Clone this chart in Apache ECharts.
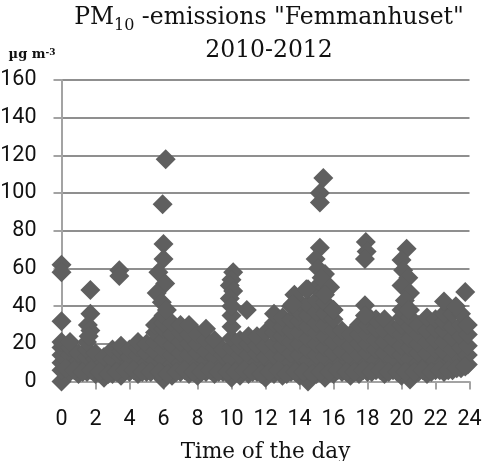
<!DOCTYPE html>
<html><head><meta charset="utf-8">
<style>html,body{margin:0;padding:0;background:#fff}#c{width:484px;height:461px}</style>
<script src="https://cdn.jsdelivr.net/npm/echarts@6/dist/echarts.min.js"></script></head>
<body><div id="c"></div>
<script>
const titleMain = 'PM';
const titleSub = '10';
const titleRest = ' -emissions "Femmanhuset"';
const titleYears = '2010-2012';
const xAxisTitle = 'Time of the day';
const xTicks = [0, 24, 2];
const yTicks = [0, 160, 20];

// isolated high readings: hour of day, µg/m³
const peakHours = [0.0,0.0,0.0,1.7,1.7,1.55,1.7,1.6,3.4,3.4,5.95,6.13,6.0,6.0,5.7,6.1,5.6,5.9,6.2,10.1,10.0,9.9,10.1,9.9,10.0,10.9,13.7,13.6,14.4,15.4,15.2,15.2,15.2,14.95,15.1,15.5,15.3,15.8,15.5,16.0,17.9,17.95,17.85,17.85,17.85,20.3,20.0,20.1,20.4,20.0,20.5,20.2,20.4,22.5,23.75,23.2];
const peakValues = [62,58,32,48.5,36,30,27,24,59,56,94,118,73,65,58,52,47,42,38,58,54,51,48,44,40,38,46,41,49,108,100,95,71,65,60,57,55,50,46,38,74,69,65,40.5,35,70.5,64.5,59,55,51,47,43,38,42.5,47.5,40];

// dense body of readings, read column by column: hour, then values
const bodyColumns = [
[0.0, 0,6,10,14,18,21],
[0.5, 5,9,14,18,21],
[1.0, 4,8,11,15],
[1.5, 5,8,13,17,21],
[2.0, 4,9,12,15],
[2.5, 2,6,10,13],
[3.0, 4,7,12,17],
[3.5, 3,8,13,16,19],
[4.0, 5,10,13,17],
[4.5, 4,9,14,18,21],
[5.0, 5,10,15,20],
[5.5, 6,11,16,21,26,30],
[6.0, 1,6,12,17,22,28,31,35],
[6.5, 3,9,14,19,25,31],
[7.0, 5,10,15,21,26,30],
[7.5, 4,8,14,20,25,30],
[8.0, 3,9,15,20,25],
[8.5, 5,11,16,22,28],
[9.0, 4,9,13,18,22],
[9.5, 5,9,14,17],
[10.0, 2,7,12,18,23,29,35],
[10.5, 3,8,14,18,22],
[11.0, 4,9,14,20,24],
[11.5, 5,10,15,19,24],
[12.0, 2,8,13,19,26],
[12.5, 4,9,14,20,26,31,36],
[13.0, 3,8,13,19,24,29,34],
[13.5, 5,10,15,21,27,33,40],
[14.0, 3,8,14,20,26,32,37,42],
[14.5, 0,6,11,17,23,29,35,41,49],
[15.0, 4,9,14,20,26,31,37,43,50],
[15.5, 2,7,13,18,24,30,36,42,50],
[16.0, 4,9,15,21,27,33,38],
[16.5, 5,10,16,22,27],
[17.0, 3,8,13,19,25],
[17.5, 4,9,14,20,25,30],
[18.0, 5,10,15,20,25,30,35],
[18.5, 6,11,17,22,28,33],
[19.0, 4,10,15,21,27,33],
[19.5, 6,12,17,23,28],
[20.0, 3,8,14,19,25,30,34,38],
[20.5, 1,7,12,18,23,29,34,38],
[21.0, 5,10,15,20,25,30],
[21.5, 4,9,15,21,27,34],
[22.0, 6,11,17,22,28,33],
[22.5, 5,10,16,21,27,32,36],
[23.0, 6,12,17,23,29,36],
[23.5, 7,12,18,24,30,36],
[23.9, 9,14,19,25,30]
];

// low readings lying between the columns above
const lowHours = [0.25,0.75,1.25,1.75,2.25,2.75,3.25,3.75,4.25,4.75,5.25,5.75,6.25,6.75,7.25,7.75,8.25,8.75,9.25,9.75,10.25,10.75,11.25,11.75,12.25,12.75,13.25,13.75,14.25,14.75,15.25,15.75,16.25,16.75,17.25,17.75,18.25,18.75,19.25,19.75,20.25,20.75,21.25,21.75,22.25,22.75,23.25,23.75];
const lowValues = [7,6,5,6,5,4,5,6,6,5,5,5,4,5,6,5,5,6,5,5,5,6,5,4,5,6,4,5,5,4,5,5,6,5,5,6,5,6,5,5,5,5,6,5,6,6,7,8];

const pm10Data = [];
for (const col of bodyColumns) for (let i = 1; i < col.length; i++) pm10Data.push([col[0], col[i]]);
for (let i = 0; i < lowHours.length; i++) pm10Data.push([lowHours[i], lowValues[i]]);
for (let i = 0; i < peakHours.length; i++) pm10Data.push([peakHours[i], peakValues[i]]);

const serif = '"DejaVu Serif"';
const sans = 'Roboto';
const chart = echarts.init(document.getElementById('c'), null, {renderer: 'canvas'});
chart.setOption({
  animation: false,
  backgroundColor: '#fff',
  title: {
    left: 264, top: -4, textAlign: 'center',
    text: '{m|' + titleMain + '}{s|' + titleSub + '}{m|' + titleRest + '}\n{m|' + titleYears + '}',
    textStyle: { rich: {
      m: {fontFamily: serif, fontWeight: 'normal', fontSize: 23.5, color: '#111', lineHeight: 33},
      s: {fontFamily: serif, fontWeight: 'normal', fontSize: 16, color: '#111', lineHeight: 33, verticalAlign: 'bottom', padding: [8, 0, 0, 0]}
    }}
  },
  grid: {left: 61.5, right: 14.5, top: 80, bottom: 79.5, outerBoundsMode: 'none'},
  xAxis: {
    type: 'value', min: xTicks[0], max: xTicks[1], interval: xTicks[2],
    name: xAxisTitle, nameLocation: 'middle', nameGap: 60,
    nameTextStyle: {fontFamily: serif, fontSize: 21.5, color: '#111'},
    axisLine: {onZero: false, lineStyle: {color: '#a3a3a3', width: 2}},
    axisTick: {show: true, length: 8, lineStyle: {color: '#a3a3a3', width: 2}},
    axisLabel: {fontFamily: sans, fontSize: 21.5, color: '#111', margin: 27, showMinLabel: true, showMaxLabel: true, hideOverlap: false},
    splitLine: {show: false}
  },
  yAxis: {
    type: 'value', min: yTicks[0], max: yTicks[1], interval: yTicks[2],
    axisLine: {show: true, lineStyle: {color: '#a3a3a3', width: 2}},
    axisTick: {show: true, length: 8, lineStyle: {color: '#a3a3a3', width: 2}},
    axisLabel: {fontFamily: sans, fontSize: 21.5, color: '#111', margin: 25, padding: [4, 0, 0, 0]},
    splitLine: {show: true, lineStyle: {color: '#8f8f8f', width: 2}},
    name: '{b|µg m}{u|-3}', nameLocation: 'end', nameGap: 19,
    nameTextStyle: {align: 'right', padding: [0, 6, 0, 0], rich: {
      b: {fontFamily: serif, fontWeight: 'bold', fontSize: 13, color: '#111'},
      u: {fontFamily: serif, fontWeight: 'bold', fontSize: 9, color: '#111', padding: [0, 0, 4, 0]}
    }}
  },
  series: [{
    type: 'scatter', data: pm10Data, symbol: 'diamond', symbolSize: 20, clip: false,
    itemStyle: {color: '#5f5f5f', opacity: 1}
  }]
});
</script></body></html>
